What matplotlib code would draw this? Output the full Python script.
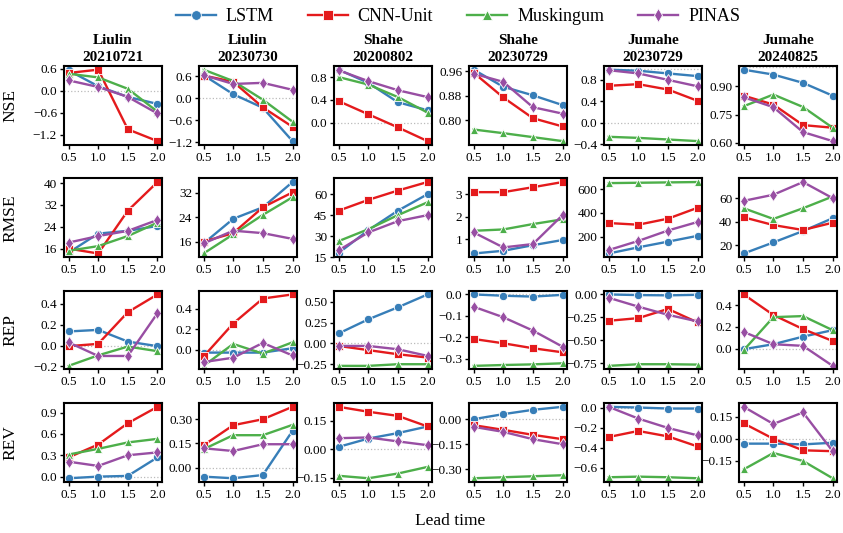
import matplotlib
matplotlib.use("Agg")
import matplotlib.pyplot as plt
from matplotlib.lines import Line2D

plt.rcParams['font.family'] = ['Liberation Serif', 'DejaVu Serif']
plt.rcParams['mathtext.fontset'] = 'stix'

lead_time = [0.5, 1.0, 1.5, 2.0]
models = ["LSTM", "CNN-Unit", "Muskingum", "PINAS"]
events = ["Liulin\n20210721", "Liulin\n20230730", "Shahe\n20200802",
          "Shahe\n20230729", "Jumahe\n20230729", "Jumahe\n20240825"]
metrics = ["NSE", "RMSE", "REP", "REV"]

# ---- NSE ----
nse_lstm = [[0.55, 0.12, -0.17, -0.36], [0.63, 0.11, -0.26, -1.17], [0.93, 0.70, 0.36, 0.22],
            [0.966, 0.91, 0.882, 0.85], [0.99, 0.97, 0.92, 0.87], [0.988, 0.962, 0.918, 0.85]]
nse_cnn = [[0.48, 0.57, -1.05, -1.37], [0.62, 0.45, -0.25, -0.78], [0.38, 0.15, -0.08, -0.32],
           [0.956, 0.875, 0.807, 0.78], [0.69, 0.72, 0.62, 0.41], [0.85, 0.803, 0.694, 0.68]]
nse_musk = [[0.46, 0.36, 0.05, -0.57], [0.78, 0.47, -0.04, -0.64], [0.80, 0.67, 0.45, 0.18],
            [0.77, 0.758, 0.745, 0.732], [-0.26, -0.28, -0.31, -0.34], [0.794, 0.856, 0.79, 0.68]]
nse_pinas = [[0.28, 0.10, -0.17, -0.62], [0.63, 0.39, 0.42, 0.23], [0.92, 0.73, 0.57, 0.45],
             [0.953, 0.926, 0.843, 0.822], [0.98, 0.92, 0.80, 0.68], [0.842, 0.789, 0.657, 0.609]]

# ---- RMSE ----
rmse_lstm = [[14.5, 21.5, 22.5, 24.3], [15.4, 23.5, 27.3, 35.6], [17.9, 34.2, 48.2, 60.0],
             [0.36, 0.48, 0.73, 0.96], [57, 109, 157, 206], [12.9, 22.3, 32.0, 42.9]]
rmse_cnn = [[16.0, 14.2, 29.9, 40.4], [16.0, 18.8, 27.3, 32.2], [48.2, 55.9, 62.6, 68.7],
            [3.09, 3.09, 3.31, 3.54], [314, 300, 351, 443], [43.7, 37.1, 32.9, 39.1]]
rmse_musk = [[15.2, 16.9, 20.6, 25.5], [12.1, 18.4, 24.8, 30.6], [26.4, 34.9, 45.0, 54.2],
             [1.37, 1.43, 1.67, 1.88], [651, 654, 657, 660], [51.4, 42.3, 51.4, 61.4]]
rmse_pinas = [[18.2, 20.6, 22.5, 26.5], [15.4, 19.6, 18.8, 16.9], [19.8, 32.6, 40.7, 45.0],
              [1.30, 0.63, 0.78, 2.07], [86, 163, 251, 323], [57.7, 62.9, 73.7, 60.0]]

# ---- REP ----
rep_lstm = [[0.135, 0.15, 0.038, -0.006], [-0.03, -0.03, -0.03, 0.013], [0.12, 0.29, 0.435, 0.59],
            [0.0, -0.006, -0.01, -0.002], [0.0, -0.007, -0.01, -0.004], [-0.006, 0.04, 0.11, 0.17]]
rep_cnn = [[-0.006, 0.016, 0.32, 0.49], [-0.068, 0.255, 0.50, 0.54], [-0.03, -0.08, -0.13, -0.17],
           [-0.207, -0.227, -0.25, -0.269], [-0.287, -0.258, -0.158, -0.305], [0.50, 0.31, 0.18, 0.07]]
rep_musk = [[-0.195, -0.094, -0.01, -0.054], [-0.16, 0.055, -0.04, 0.071], [-0.27, -0.27, -0.25, -0.25],
            [-0.332, -0.328, -0.325, -0.32], [-0.778, -0.76, -0.76, -0.764], [-0.015, 0.29, 0.30, 0.17]]
rep_pinas = [[0.03, -0.10, -0.10, 0.31], [-0.123, -0.08, 0.065, -0.058], [-0.03, -0.03, -0.07, -0.15],
             [-0.057, -0.106, -0.168, -0.243], [-0.036, -0.133, -0.222, -0.294], [0.154, 0.04, 0.025, -0.16]]

# ---- REV ----
rev_lstm = [[-0.023, 0.0, 0.01, 0.27], [-0.056, -0.066, -0.046, 0.228], [0.012, 0.056, 0.085, 0.12],
            [0.0, 0.03, 0.056, 0.074], [0.007, 0.0, -0.01, -0.01], [-0.033, -0.033, -0.038, -0.027]]
rev_cnn = [[0.27, 0.45, 0.75, 0.98], [0.139, 0.263, 0.30, 0.377], [0.224, 0.198, 0.176, 0.12],
           [-0.036, -0.064, -0.094, -0.12], [-0.293, -0.233, -0.287, -0.387], [0.104, 0.0, -0.078, -0.084]]
rev_musk = [[0.31, 0.39, 0.48, 0.53], [0.114, 0.201, 0.201, 0.265], [-0.141, -0.154, -0.129, -0.094],
            [-0.354, -0.348, -0.342, -0.336], [-0.693, -0.687, -0.693, -0.703], [-0.207, -0.096, -0.15, -0.267]]
rev_pinas = [[0.21, 0.15, 0.30, 0.34], [0.12, 0.103, 0.145, 0.145], [0.058, 0.062, 0.041, 0.021],
             [-0.046, -0.076, -0.12, -0.15], [0.007, -0.11, -0.203, -0.277], [0.216, 0.10, 0.178, -0.084]]

# y tick values per metric/event
nse_ticks = [[-1.2, -0.6, 0.0, 0.6], [-1.2, -0.6, 0.0, 0.6], [0.0, 0.4, 0.8],
             [0.80, 0.88, 0.96], [-0.4, 0.0, 0.4, 0.8], [0.60, 0.75, 0.90]]
rmse_ticks = [[16, 24, 32, 40], [16, 24, 32], [15, 30, 45, 60], [1, 2, 3], [200, 400, 600], [20, 40, 60]]
rep_ticks = [[-0.2, 0.0, 0.2, 0.4], [0.0, 0.2, 0.4], [-0.25, 0.00, 0.25, 0.50],
             [-0.3, -0.2, -0.1, 0.0], [-0.75, -0.50, -0.25, 0.00], [0.0, 0.2, 0.4]]
rev_ticks = [[0.0, 0.3, 0.6, 0.9], [0.00, 0.15, 0.30], [-0.15, 0.00, 0.15],
             [-0.30, -0.15, 0.00], [-0.6, -0.4, -0.2, 0.0], [-0.15, 0.00, 0.15]]
ref_lines = {"NSE": [0.0, 1.0], "RMSE": [], "REP": [0.0], "REV": [0.0]}

data = {
    "NSE": [nse_lstm, nse_cnn, nse_musk, nse_pinas],
    "RMSE": [rmse_lstm, rmse_cnn, rmse_musk, rmse_pinas],
    "REP": [rep_lstm, rep_cnn, rep_musk, rep_pinas],
    "REV": [rev_lstm, rev_cnn, rev_musk, rev_pinas],
}
ticks = {"NSE": nse_ticks, "RMSE": rmse_ticks, "REP": rep_ticks, "REV": rev_ticks}

colors = ["#377eb8", "#e41a1c", "#4daf4a", "#984ea3"]
markers = ["o", "s", "^", "d"]

fig, axes = plt.subplots(4, 6, figsize=(8.43, 5.33), dpi=100)
fig.subplots_adjust(left=0.076, right=0.993, top=0.876, bottom=0.096, wspace=0.38, hspace=0.43)

for r, metric in enumerate(metrics):
    for c in range(6):
        ax = axes[r, c]
        for m in range(4):
            ax.plot(lead_time, data[metric][m][c], color=colors[m], marker=markers[m],
                    lw=1.7, ms=6, mec="white", mew=0.6, label=models[m])
        ylim = ax.get_ylim()
        for y0 in ref_lines[metric]:
            ax.axhline(y0, color="#bbbbbb", lw=0.9, ls=":", zorder=0)
        ax.set_ylim(ylim)
        ax.set_xticks(lead_time)
        ax.set_yticks(ticks[metric][c])
        ax.tick_params(labelsize=9.5, direction="out", length=3, width=1.0, pad=2)
        for sp in ax.spines.values():
            sp.set_linewidth(1.5)
        if r == 0:
            ax.set_title(events[c], fontsize=11, fontweight="bold", pad=4, linespacing=1.35)
        if c == 0:
            ax.set_ylabel(metric, fontsize=12.5)
            ax.yaxis.set_label_coords(-0.47, 0.5)

handles = [Line2D([], [], color=colors[m], marker=markers[m], lw=1.7, ms=7,
                  mec="white", mew=0.6) for m in range(4)]
fig.legend(handles, models, loc="center", bbox_to_anchor=(458 / 843, 1 - 17 / 533), ncol=4,
           frameon=False, fontsize=13, handlelength=2.2, handletextpad=0.55, columnspacing=1.9)
fig.text(450 / 843, 1 - 521 / 533, "Lead time", ha="center", va="center", fontsize=12.5)

fig.savefig("out.png", dpi=100)
